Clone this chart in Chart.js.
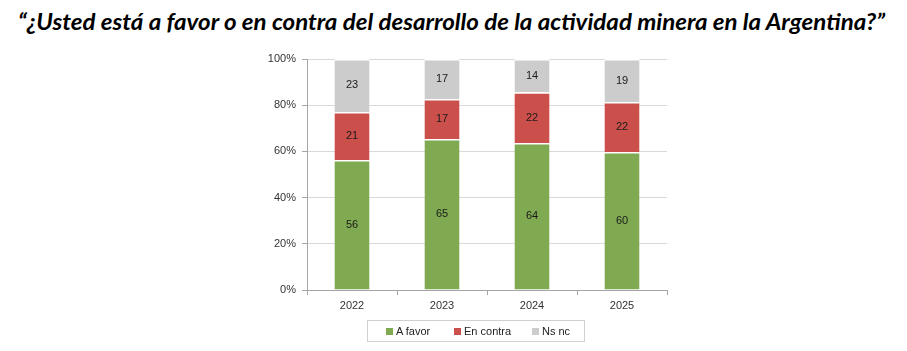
<!DOCTYPE html>
<html>
<head>
<meta charset="utf-8">
<script src="https://cdn.jsdelivr.net/npm/chart.js@4"></script>
<style>
  body { margin:0; width:907px; height:351px; background:#fff; position:relative; overflow:hidden; }
  #title { position:absolute; left:18px; top:8px; font-family:Lato, sans-serif; font-size:22px; font-weight:bold; font-style:italic; color:#000; white-space:nowrap; transform-origin:0 0; }
  #wrap { position:absolute; left:0; top:0; width:907px; height:351px; }
  #legend { position:absolute; left:367px; top:320px; width:216px; height:20px; border:1px solid #d0d0d0; font-family:"Liberation Sans", Arial, sans-serif; font-size:11px; color:#222; }
  #legend span.box { display:inline-block; width:7px; height:7px; margin-right:3px; }
  #legend div { position:absolute; top:4px; display:flex; align-items:center; }
</style>
</head>
<body>
<div id="title">“¿Usted está a favor o en contra del desarrollo de la actividad minera en la Argentina?”</div>
<div id="wrap"><canvas id="graph"></canvas></div>
<div id="legend"></div>
<script>
const years = ["2022", "2023", "2024", "2025"];
// shares; labels show them rounded
const aFavor = [56.3, 65.4, 63.6, 59.7];
const enContra = [20.8, 17.3, 22.0, 21.7];
const nsNc = [22.9, 17.3, 14.4, 18.6];
const seriesNames = ["A favor", "En contra", "Ns nc"];
const seriesColors = ["#80aa52", "#cb504b", "#cccccc"];
const yTicks = [0, 20, 40, 60, 80, 100];

// squeeze the title to the width it has in the picture
const tt = document.getElementById("title");
tt.style.transform = "scaleX(" + (867 / tt.getBoundingClientRect().width) + ")";

// labels in the middle of each segment
const segLabels = {
  id: "segLabels",
  afterDatasetsDraw(chart) {
    const ctx = chart.ctx;
    ctx.save();
    ctx.font = "11px 'Liberation Sans', Arial, sans-serif";
    ctx.fillStyle = "#1a1a1a";
    ctx.textAlign = "center";
    ctx.textBaseline = "middle";
    chart.data.datasets.forEach((ds, i) => {
      chart.getDatasetMeta(i).data.forEach((bar, j) => {
        const top = Math.max(bar.y, chart.chartArea.top);
        ctx.fillText(Math.round(ds.data[j]), bar.x, (top + bar.base) / 2);
      });
    });
    ctx.restore();
  }
};

const allSeries = [aFavor, enContra, nsNc];
mychart = new Chart(document.getElementById("graph"), {
  type: "bar",
  data: {
    labels: years,
    datasets: allSeries.map((d, i) => ({
      label: seriesNames[i],
      data: d,
      backgroundColor: seriesColors[i],
      borderColor: "#ffffff",
      borderWidth: { top: 1.5, bottom: 0, left: 0, right: 0 },
      borderSkipped: false,
      barPercentage: 0.39,
      categoryPercentage: 1
    }))
  },
  options: {
    responsive: true,
    maintainAspectRatio: false,
    animation: false,
    layout: { padding: { left: 262, right: 240, top: 59, bottom: 31 } },
    plugins: { legend: { display: false }, tooltip: { enabled: false } },
    scales: {
      x: {
        stacked: true,
        afterFit: s => { s.height = 30; },
        grid: { drawOnChartArea: false, drawTicks: true, tickLength: 5, offset: true, color: "#a6a6a6" },
        border: { color: "#a6a6a6" },
        ticks: { color: "#333", padding: 4, font: { family: "'Liberation Sans', Arial, sans-serif", size: 11 } }
      },
      y: {
        stacked: true,
        min: 0,
        max: 100,
        afterFit: s => { s.width = 45; },
        afterBuildTicks: s => { s.ticks = yTicks.map(v => ({ value: v })); },
        grid: { color: "#d9d9d9", tickLength: 5, tickColor: "#a6a6a6" },
        border: { color: "#a6a6a6" },
        ticks: { color: "#333", padding: 6, callback: v => v + "%", font: { family: "'Liberation Sans', Arial, sans-serif", size: 11 } }
      }
    }
  },
  plugins: [segLabels]
});

// legend from the same series
const lg = document.getElementById("legend");
const lx = [18, 86, 164];
seriesNames.forEach((n, i) => {
  const d = document.createElement("div");
  d.style.left = lx[i] + "px";
  d.innerHTML = '<span class="box" style="background:' + seriesColors[i] + '"></span>' + n;
  lg.appendChild(d);
});
</script>
</body>
</html>
